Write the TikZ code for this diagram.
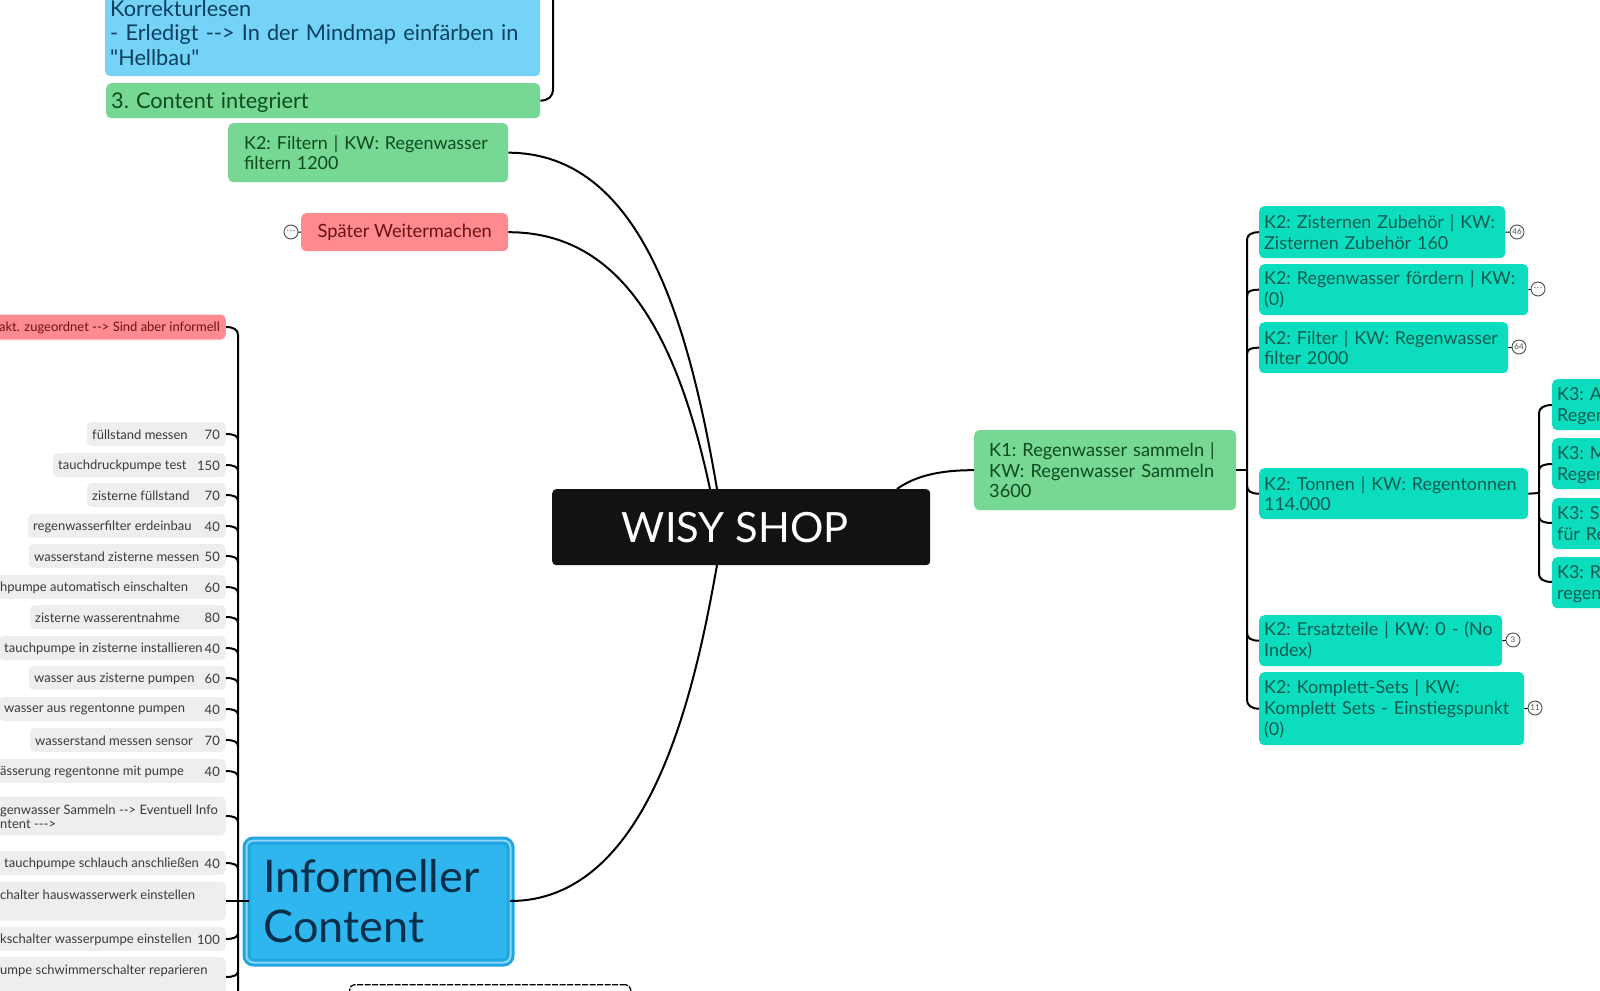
\documentclass[tikz,border=0pt]{standalone}
\usepackage{fontspec}
\setmainfont{Lato}[Ligatures=TeXOff]
\definecolor{tealbox}{HTML}{0CDDBE}
\definecolor{tealtxt}{HTML}{0A5C52}
\definecolor{greenbox}{HTML}{76D892}
\definecolor{greentxt}{HTML}{0E4A22}
\definecolor{bluebox}{HTML}{74D3F6}
\definecolor{bluetxt}{HTML}{0B3F5E}
\definecolor{redbox}{HTML}{FF8B90}
\definecolor{redtxt}{HTML}{6B1016}
\definecolor{infobox}{HTML}{30B6EE}
\definecolor{inforing}{HTML}{1FA6E0}
\definecolor{infotxt}{HTML}{0A2F4A}
\definecolor{leafbox}{HTML}{EEEEEE}
\definecolor{leaftxt}{HTML}{3A3A3A}
\newcommand{\moredots}{·\kern1pt·\kern1pt·}
\tikzset{
	card/.style={anchor=north west, rounded corners=5pt, inner xsep=5pt, inner ysep=0pt, align=left},
	ktwo/.style={card, fill=tealbox, text=tealtxt, font=\frenchspacing\fontsize{17.9}{20.8}\selectfont},
	kgreen/.style={card, fill=greenbox, text=greentxt, font=\frenchspacing\fontsize{17.9}{20.8}\selectfont},
	leafcard/.style={anchor=east, fill=leafbox, rounded corners=5pt, minimum height=24pt, inner sep=0pt},
	leaftext/.style={inner sep=0pt, yshift=-0.8pt, text=leaftxt, font=\fontsize{13}{14}\selectfont},
	badge/.style={circle, draw=black!70, fill=white, line width=0.9pt, minimum size=14pt, inner sep=0pt, text=black!70, font=\fontsize{8}{8}\selectfont},
	branch/.style={line width=2pt, black},
}
\begin{document}
\begin{tikzpicture}[x=1pt,y=-1pt]
	\useasboundingbox (0,0) rectangle (1600,990);
	
	% Centre
	\node[anchor=north west, fill=black!93, rounded corners=4pt, minimum width=378pt, minimum height=76pt, text=white, font=\fontsize{41.7}{44}\selectfont] (shop) at (552,489) {\hspace*{-12pt}WISY SHOP};
	\coordinate (shoptop) at (717,489);
	\coordinate (shoptopb) at (710,489);
	\coordinate (shopbot) at (717,565);
	\coordinate (shopright) at (897,489);
	
	% Top left
	\node[card, fill=bluebox, text=bluetxt, text width=425pt, minimum height=87pt, font=\frenchspacing\fontsize{21.7}{24.6}\selectfont] (todo) at (105,-11) {Korrekturlesen\\- Erledigt --> In der Mindmap einfärben in\\"Hellbau"};
	\node[card, fill=greenbox, text=greentxt, text width=424pt, text height=20pt, text depth=5pt, minimum height=35pt, font=\frenchspacing\fontsize{21.7}{24.6}\selectfont] (done) at (106,83) {3. Content integriert};
	\coordinate (doneup) at (553,-5);
	\draw[branch] (done.east) .. controls (548,100) and (553,98) .. (553,88) -- (doneup);
	
	\node[kgreen, text width=248pt, minimum width=280pt, minimum height=59pt, inner xsep=16pt] (filtern) at (228,123) {K2: Filtern | KW: Regenwasser\\filtern 1200};
	\node[card, fill=redbox, text=redtxt, minimum width=207pt, minimum height=38pt, text height=15pt, text depth=4pt, font=\frenchspacing\fontsize{18.3}{20.8}\selectfont, align=center] (later) at (301,213) {Später Weitermachen};
	\node[badge] (latermore) at (291,232) {\moredots};
	\draw[line width=0.9pt] (latermore) -- (later.west);
	
	% Curves to the centre
	\draw[branch] (filtern.east) .. controls (640,153) and (688,319) .. (shoptop);
	\draw[branch] (later.east) .. controls (623,232) and (678,339) .. (shoptopb);
	
	% Right side
	\node[kgreen, text width=232pt, minimum width=262pt, minimum height=80pt, inner xsep=15pt, font=\frenchspacing\fontsize{18.2}{20.8}\selectfont] (kone) at (974,430) {K1: Regenwasser sammeln |\\KW: Regenwasser Sammeln\\3600};
	\draw[branch] (kone.west) .. controls (940,470) and (915,476) .. (shopright);
	
	\node[ktwo, text width=236pt, minimum height=52pt] (zub) at (1259,206) {K2: Zisternen Zubehör | KW:\\Zisternen Zubehör 160};
	\node[ktwo, text width=259pt, minimum height=51pt] (foer) at (1259,264) {K2: Regenwasser fördern | KW:\\(0)};
	\node[ktwo, text width=239pt, minimum height=51pt] (filt) at (1259,322) {K2: Filter | KW: Regenwasser\\filter 2000};
	\node[ktwo, text width=259pt, minimum height=51pt] (tonn) at (1259,468) {K2: Tonnen | KW: Regentonnen\\114.000};
	\node[ktwo, text width=233pt, minimum height=51pt] (ersatz) at (1259,615) {\mbox{K2: Ersatzteile | KW: 0 - (No}\\Index)};
	\node[ktwo, text width=255pt, minimum height=73pt] (sets) at (1259,672) {K2: Komplett-Sets | KW:\\Komplett Sets - Einstiegspunkt\\(0)};
	
	\node[badge] (zubmore) at (1517,232) {46};
	\node[badge] (foermore) at (1538,289) {\moredots};
	\node[badge] (filtmore) at (1519,347) {64};
	\node[badge] (ersatzmore) at (1513,640) {3};
	\node[badge] (setsmore) at (1535,708) {11};
	\foreach \n in {zub,foer,filt,ersatz,sets}
	\draw[line width=0.9pt] (\n.east) -- (\n more);
	
	% K3 boxes run off the page
	\foreach \n/\y/\a/\b in {ka/379/A/Regen, kb/438/M/Regen, kc/498/S/für Re, kd/557/R/regen}
	\node[ktwo, minimum height=51pt, text width=80pt] (\n) at (1552,\y) {\rule{0pt}{17pt}K3: \a\\\rule[-4pt]{0pt}{4pt}\b};
	
	% Brackets, right
	\coordinate (ringtop) at (1247,240);
	\coordinate (ringbot) at (1247,700);
	\draw[branch] (kone.east |- 0,470) -- (1247,470);
	\draw[branch] (zub.west) .. controls +(-8,0) and +(0,-5) .. (ringtop) -- (ringbot) .. controls +(0,5) and +(-8,0) .. (sets.west);
	\draw[branch] (foer.west) .. controls +(-8,0) and +(0,-5) .. (1247,296);
	\draw[branch] (filt.west) .. controls +(-8,0) and +(0,-5) .. (1247,354);
	\draw[branch] (tonn.west) .. controls +(-8,0) and +(0,5) .. (1247,486);
	\draw[branch] (ersatz.west) .. controls +(-8,0) and +(0,5) .. (1247,633);
	
	\coordinate (rintop) at (1539,413);
	\coordinate (rinbot) at (1539,574);
	\draw[branch] (tonn.east) -- (1539,493);
	\draw[branch] (ka.west |- 0,405) .. controls +(-8,0) and +(0,-5) .. (rintop) -- (rinbot) .. controls +(0,5) and +(-8,0) .. (kd.west |- 0,582);
	\draw[branch] (kb.west |- 0,464) .. controls +(-8,0) and +(0,-4) .. (1539,470);
	\draw[branch] (kc.west |- 0,523) .. controls +(-8,0) and +(0,4) .. (1539,517);
	
	% Informeller Content
	\node[anchor=north west, fill=infobox, draw=inforing, double=white!45!infobox, double distance=2pt, line width=3pt, rounded corners=7pt, minimum width=264pt, minimum height=122pt, text width=240pt, align=left, text=infotxt, font=\fontsize{45}{50}\selectfont] (info) at (245,839) {\hspace*{5pt}Informeller\\\hspace*{5pt}Content};
	\coordinate (infoout) at (510,901);
	\coordinate (infoin) at (249,901);
	\draw[branch] (infoout) .. controls (650,901) and (695,690) .. (shopbot);
	
	\node[anchor=north west, draw=black, fill=white, dash pattern=on 6pt off 1.5pt, rounded corners=5pt, line width=1.3pt, minimum width=281pt, minimum height=40pt] (dashbox) at (349,984) {};
	
	% Leaves
	\coordinate (ltop) at (238,335);
	\coordinate (lbot) at (238,995);
	\node[leafcard, fill=redbox, minimum width=240pt, minimum height=25pt] (flag) at (226,327) {};
	\node[leaftext, anchor=east, text=redtxt] (flagtxt) at (220,327) {akt. zugeordnet --> Sind aber informell};
	\draw[branch] (flag.east) .. controls +(8,0) and +(0,-5) .. (ltop) -- (lbot);
	
	\foreach \i/\y/\x/\t/\v in {
		1/434/92/füllstand messen/70,
		2/465/58/tauchdruckpumpe test/150,
		3/495/92/zisterne füllstand/70,
		4/526/33/regenwasserfilter erdeinbau/40,
		5/556/34/wasserstand zisterne messen/50,
		6/587/0/hpumpe automatisch einschalten/60,
		7/617/35/zisterne wasserentnahme/80,
		8/648/4/tauchpumpe in zisterne installieren/40,
		9/678/34/wasser aus zisterne pumpen/60,
		10/709/4/wasser aus regentonne pumpen/40,
		11/740/35/wasserstand messen sensor/70,
		12/771/0/ässerung regentonne mit pumpe/40}
	{
	\pgfmathsetmacro{\w}{226-\x+5}
	\node[leafcard, minimum width=\w pt] (leaf\i) at (226,\y) {};
	\node[leaftext, anchor=west] (leaft\i) at (\x,\y) {\t};
	\node[leaftext, anchor=east] (leafv\i) at (220,\y) {\v};
	\draw[branch] (leaf\i.east) .. controls +(8,0) and +(0,-4) .. +(12,6);
	}
	
	\node[leafcard, minimum width=240pt, minimum height=39pt] (leafm) at (226,816) {};
	\node[leaftext, anchor=north west, align=left] (leafmt) at (0,804) {genwasser Sammeln --> Eventuell Info\\ntent --->};
	\draw[branch] (leafm.east) .. controls +(8,0) and +(0,-4) .. +(12,6);
	
	\node[leafcard, minimum width=230pt] (leafs) at (226,863) {};
	\node[leaftext, anchor=west] (leafst) at (4,863) {tauchpumpe schlauch anschließen};
	\node[leaftext, anchor=east] (leafsv) at (220,863) {40};
	\draw[branch] (leafs.east) .. controls +(8,0) and +(0,-4) .. +(12,6);
	
	\node[leafcard, minimum width=240pt, minimum height=39pt] (leafh) at (226,901) {};
	\node[leaftext, anchor=west] (leafht) at (0,894) {chalter hauswasserwerk einstellen};
	\draw[branch] (leafh.east) -- (infoin);
	
	\node[leafcard, minimum width=240pt] (leafk) at (226,939) {};
	\node[leaftext, anchor=west] (leafkt) at (0,939) {kschalter wasserpumpe einstellen};
	\node[leaftext, anchor=east] (leafkv) at (220,939) {100};
	\draw[branch] (leafk.east) .. controls +(8,0) and +(0,4) .. +(12,-6);
	
	\node[leafcard, anchor=north east, minimum width=240pt, minimum height=45pt] (leafp) at (226,957) {};
	\node[leaftext, anchor=west] (leafpt) at (0,970) {umpe schwimmerschalter reparieren};
	\draw[branch] (leafp.east |- 0,977) .. controls +(8,0) and +(0,4) .. +(12,-6);
\end{tikzpicture}
\end{document}
